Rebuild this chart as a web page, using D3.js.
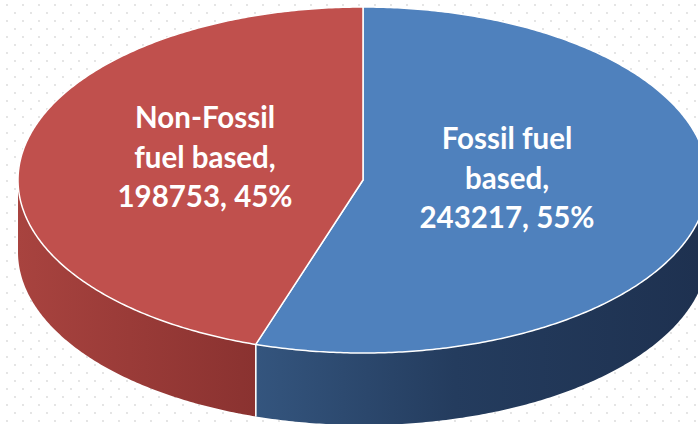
<!DOCTYPE html>
<html><head><meta charset="utf-8">
<script src="https://cdn.jsdelivr.net/npm/d3@7"></script>
<style>html,body{margin:0;padding:0;background:#fff;overflow:hidden}</style>
</head><body>
<svg id="chart" width="698" height="424"></svg>
<script>
const categories = ["Fossil fuel based", "Non-Fossil fuel based"];
const values = [243217, 198753];
const percents = ["55%", "45%"];
const labelLines = [["Fossil fuel", "based,", "243217, 55%"], ["Non-Fossil", "fuel based,", "198753, 45%"]];

const W = 698, H = 424;
const cx = 363, cy = 180, rx = 345, ry = 173, depth = 72;
const topColors = ["#4F81BD", "#C0504D"];
const sideStops = [[["0", "#34557E"], ["0.45", "#243C5E"], ["1", "#1E3150"]], [["0", "#A8433F"], ["1", "#8A3230"]]];
const labelPos = [[507, 139], [205, 118]];

const svg = d3.select("#chart");
const defs = svg.append("defs");
const pat = defs.append("pattern").attr("id", "dots").attr("width", 16).attr("height", 16).attr("patternUnits", "userSpaceOnUse");
pat.append("rect").attr("width", 16).attr("height", 16).attr("fill", "#fff");
pat.append("circle").attr("cx", 7).attr("cy", 5).attr("r", 0.9).attr("fill", "#d9d9d9");
pat.append("circle").attr("cx", 15).attr("cy", 13).attr("r", 0.9).attr("fill", "#d9d9d9");
svg.append("rect").attr("width", W).attr("height", H).attr("fill", "url(#dots)");

const pie = d3.pie().sort(null).value(d => d)(values);
const px = a => cx + rx * Math.sin(a);
const py = a => cy - ry * Math.cos(a);

function arcPts(a0, a1, dy) {
  const n = Math.max(2, Math.ceil(Math.abs(a1 - a0) / 0.01));
  return d3.range(n + 1).map(i => { const a = a0 + (a1 - a0) * i / n; return [px(a), py(a) + dy]; });
}
const line = d3.line();

// sides
pie.forEach((p, i) => {
  const a0 = Math.max(p.startAngle, Math.PI / 2), a1 = Math.min(p.endAngle, 3 * Math.PI / 2);
  if (a1 <= a0) return;
  const topE = arcPts(a0, a1, 0), botE = arcPts(a1, a0, depth);
  const xs = topE.map(d => d[0]);
  const g = defs.append("linearGradient").attr("id", "side" + i).attr("gradientUnits", "userSpaceOnUse")
    .attr("x1", d3.min(xs)).attr("x2", Math.min(d3.max(xs), W)).attr("y1", 0).attr("y2", 0);
  sideStops[i].forEach(s => g.append("stop").attr("offset", s[0]).attr("stop-color", s[1]));
  svg.append("path").attr("d", line(topE.concat(botE)) + "Z").attr("fill", "url(#side" + i + ")");
});
// divider on side
pie.forEach(p => {
  [p.startAngle, p.endAngle].forEach(a => {
    if (a > Math.PI / 2 && a < 3 * Math.PI / 2) {
      svg.append("line").attr("x1", px(a)).attr("y1", py(a)).attr("x2", px(a)).attr("y2", py(a) + depth)
        .attr("stroke", "#fff").attr("stroke-width", 1.3).attr("stroke-opacity", 0.9);
    }
  });
});
// top faces
pie.forEach((p, i) => {
  const pts = [[cx, cy]].concat(arcPts(p.startAngle, p.endAngle, 0));
  svg.append("path").attr("d", line(pts) + "Z").attr("fill", topColors[i])
    .attr("stroke", "#fff").attr("stroke-width", 1.5).attr("stroke-linejoin", "round");
});

// labels
pie.forEach((p, i) => {
  const t = svg.append("text").attr("text-anchor", "middle")
    .attr("font-family", "Lato, 'Open Sans', sans-serif").attr("font-weight", "bold")
    .attr("font-size", 29.5).attr("fill", "#fff");
  labelLines[i].forEach((s, k) => {
    t.append("tspan").attr("x", labelPos[i][0]).attr("y", labelPos[i][1] + 10 + k * 39.5).text(s);
  });
});
</script>
</body></html>
